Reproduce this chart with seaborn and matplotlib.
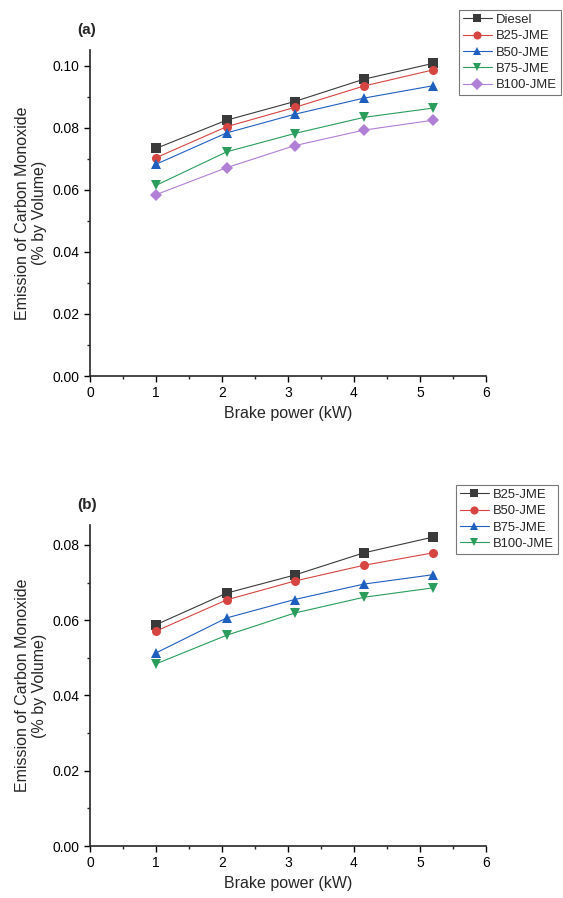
import numpy as np
import pandas as pd
import seaborn as sns
import matplotlib.pyplot as plt

# brake power (kW)
power = [1.0, 2.07, 3.1, 4.15, 5.2]

# panel (a) CO emission, % by volume
fuels_a = ["Diesel", "B25-JME", "B50-JME", "B75-JME", "B100-JME"]
diesel_a = [0.0733, 0.0824, 0.0884, 0.0956, 0.1007]
b25_a = [0.0703, 0.0803, 0.0865, 0.0934, 0.0986]
b50_a = [0.0682, 0.0783, 0.0843, 0.0895, 0.0935]
b75_a = [0.0614, 0.0722, 0.0781, 0.0833, 0.0863]
b100_a = [0.0584, 0.0671, 0.0742, 0.0792, 0.0824]

# panel (b)
fuels_b = ["B25-JME", "B50-JME", "B75-JME", "B100-JME"]
b25_b = [0.0588, 0.0672, 0.0720, 0.0779, 0.0821]
b50_b = [0.0571, 0.0654, 0.0704, 0.0746, 0.0779]
b75_b = [0.0513, 0.0606, 0.0655, 0.0696, 0.0721]
b100_b = [0.0484, 0.0560, 0.0619, 0.0661, 0.0686]

sns.set_style("ticks")
plt.rcParams['font.family'] = ['Liberation Sans', 'DejaVu Sans']

grey, red, blue, green, purple = "#3a3a3a", "#d64541", "#1f5fbf", "#2a9d5c", "#b07fd6"


def make_df(names, series):
    rows = []
    for n, vals in zip(names, series):
        for p, v in zip(power, vals):
            rows.append({"power": p, "co": v, "fuel": n})
    return pd.DataFrame(rows)


df_a = make_df(fuels_a, [diesel_a, b25_a, b50_a, b75_a, b100_a])
df_b = make_df(fuels_b, [b25_b, b50_b, b75_b, b100_b])

fig = plt.figure(figsize=(5.63, 8.98), dpi=100)
W, H = 563, 898
ax_a = fig.add_axes([90 / W, 1 - 376 / H, 396 / W, 326 / H])
ax_b = fig.add_axes([90 / W, 1 - 846 / H, 396 / W, 321 / H])


def draw(ax, df, names, colors, marks, ymax, yticks, label, leg_xy):
    sns.lineplot(data=df, x="power", y="co", hue="fuel", style="fuel",
                 hue_order=names, style_order=names,
                 palette=dict(zip(names, colors)),
                 markers=dict(zip(names, marks)), dashes=False,
                 markersize=6.5, markeredgewidth=0, linewidth=0.8,
                 ax=ax)
    ax.set_xlim(0, 6)
    ax.set_ylim(0, ymax)
    ax.set_xticks(range(0, 7))
    ax.set_xticks(np.arange(0, 6.01, 0.5), minor=True)
    ax.set_yticks(yticks)
    ax.set_yticks(np.arange(0, ymax, 0.01), minor=True)
    ax.set_yticklabels([f"{t:.2f}" for t in yticks])
    ax.tick_params(which="major", length=4, width=1, labelsize=10, colors="black")
    ax.tick_params(which="minor", length=2.5, width=1)
    for pos in ['right', 'top']:
        ax.spines[pos].set_visible(False)
    for pos in ['left', 'bottom']:
        ax.spines[pos].set_linewidth(1.2)
    ax.set_xlabel("Brake power (kW)", fontsize=11.5)
    ax.set_ylabel("Emission of Carbon Monoxide\n(% by Volume)", fontsize=11.5)
    ax.text(-0.033, 1.04, label, transform=ax.transAxes, fontsize=11,
            fontweight="bold", ha="left", va="bottom")
    leg = ax.legend(loc="upper left", bbox_to_anchor=(leg_xy[0] / W, 1 - leg_xy[1] / H),
                    bbox_transform=fig.transFigure, frameon=True, fancybox=False,
                    edgecolor="#555555", fontsize=9.4, handlelength=2.2,
                    handletextpad=0.35, labelspacing=0.32, borderpad=0.3,
                    borderaxespad=0, markerscale=0.9)
    leg.get_frame().set_linewidth(0.8)


draw(ax_a, df_a, fuels_a, [grey, red, blue, green, purple],
     ["s", "o", "^", "v", "D"], 0.105, [0.0, 0.02, 0.04, 0.06, 0.08, 0.10],
     "(a)", (459, 10))
draw(ax_b, df_b, fuels_b, [grey, red, blue, green],
     ["s", "o", "^", "v"], 0.0853, [0.0, 0.02, 0.04, 0.06, 0.08],
     "(b)", (456, 485))

plt.savefig("out.png", dpi=100)
